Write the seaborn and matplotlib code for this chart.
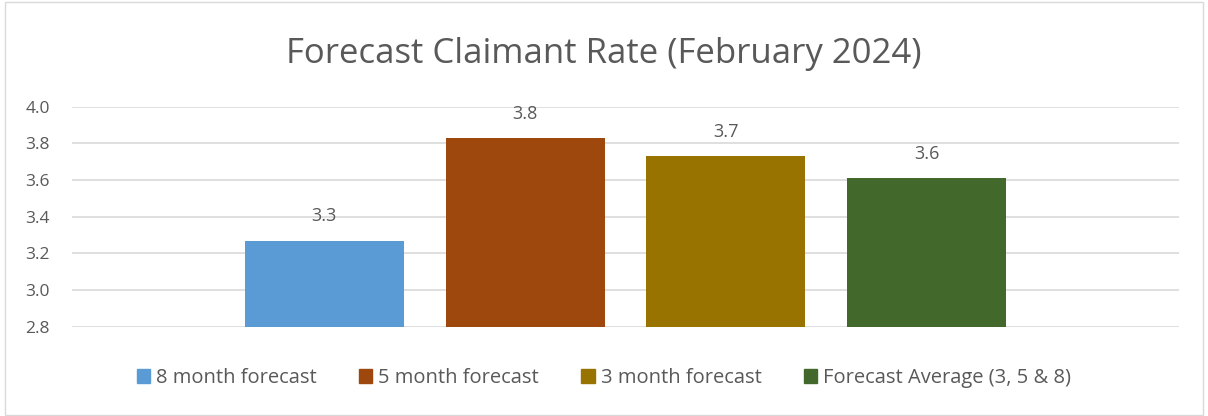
import matplotlib
matplotlib.use("Agg")
import matplotlib.pyplot as plt
import matplotlib.patches as mpatches
import seaborn as sns
import pandas as pd

series = ["8 month forecast", "5 month forecast", "3 month forecast", "Forecast Average (3, 5 & 8)"]
values = [3.27, 3.83, 3.73, 3.61]
labels = ["3.3", "3.8", "3.7", "3.6"]
category = ["February 2024"] * 4
colors = ["#5B9BD5", "#9E480E", "#997300", "#43682B"]
yticks = [2.8, 3.0, 3.2, 3.4, 3.6, 3.8, 4.0]

df = pd.DataFrame({"cat": category, "series": series, "value": values})

sns.set_theme(style="white")
plt.rcParams['font.family'] = ['Open Sans', 'DejaVu Sans']
text_color = "#595959"

fig = plt.figure(figsize=(12.08, 4.16), dpi=100)
ax = fig.add_axes([72/1208, 1-326.7/416, (1179-72)/1208, 220/416])

sns.barplot(data=df, x="cat", y="value", hue="series", palette=colors,
            hue_order=series, width=0.726, gap=0.209, ax=ax, legend=False,
            errorbar=None, saturation=1, linewidth=0, edgecolor="none")

ax.set_ylim(2.8, 4.0)
ax.set_xlim(-0.5, 0.5)
ax.set_yticks(yticks)
ax.set_yticklabels([f"{t:.1f}" for t in yticks], color=text_color, fontsize=12.5)
ax.set_xticks([])
ax.set_xlabel("")
ax.set_ylabel("")
for s in ax.spines.values():
    s.set_visible(False)
ax.tick_params(axis="y", length=0, pad=16)
ax.yaxis.grid(True, color="#D9D9D9", linewidth=1.2)
ax.set_axisbelow(True)

for cont, lab in zip(ax.containers, labels):
    ax.bar_label(cont, labels=[lab], padding=11, color=text_color, fontsize=13)

fig.text(0.5, 1-63/416, "Forecast Claimant Rate (February 2024)", ha="center", va="baseline",
         fontsize=25, color=text_color)

handles = [mpatches.Patch(color=c, label=s) for c, s in zip(colors, series)]
fig.legend(handles=handles, loc="center", bbox_to_anchor=(0.5, 1-378/416), ncol=4,
           frameon=False, fontsize=14.5, handlelength=0.65, handleheight=0.65,
           handletextpad=0.3, columnspacing=2.1, labelcolor=text_color)

border = mpatches.Rectangle((5/1208, 1/416), 1198/1208, 413/416, transform=fig.transFigure,
                            fill=False, edgecolor="#D9D9D9", linewidth=1)
fig.patches.append(border)

fig.savefig("out.png", dpi=100, facecolor="white")
